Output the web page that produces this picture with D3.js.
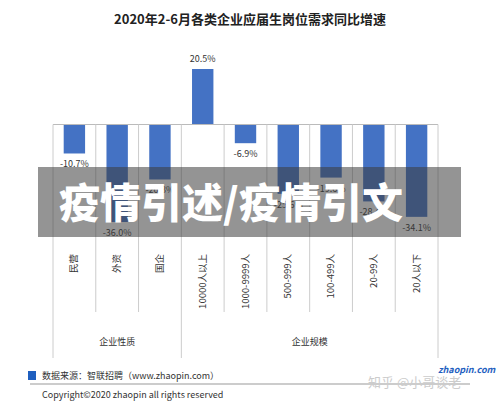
<!DOCTYPE html>
<html><head><meta charset="utf-8">
<script src="https://cdn.jsdelivr.net/npm/d3@7"></script>
<style>body{margin:0;background:#fff}svg{display:block;font-family:"Noto Sans CJK SC","Noto Sans",sans-serif}</style>
</head><body>
<script>
const categories=["民营","外资","国企","10000人以上","1000-9999人","500-999人","100-499人","20-99人","20人以下"];
const values=[-10.7,-36.0,-20.3,20.5,-6.9,-25.6,-19.6,-28.4,-34.1];
const groups=[{name:"企业性质",from:0,to:3},{name:"企业规模",from:3,to:9}];
const W=500,H=405;
const svg=d3.select("body").append("svg").attr("width",W).attr("height",H);
const x=d3.scaleBand().domain(categories).range([53,438]).paddingInner(0.5).paddingOuter(0.25);
const y=d3.scaleLinear().domain([-36,20.5]).range([222,69]);
const edge=i=>53+i*(385/9);
svg.append("text").attr("x",250).attr("y",24).attr("text-anchor","middle").attr("font-size",13).attr("font-weight","bold").attr("fill","#222").text("2020年2-6月各类企业应届生岗位需求同比增速");
svg.selectAll(".bar").data(values).join("rect").attr("x",(d,i)=>x(categories[i])).attr("width",x.bandwidth())
 .attr("y",d=>y(Math.max(0,d))).attr("height",d=>Math.abs(y(d)-y(0))).attr("fill","#4472c4");
svg.append("line").attr("x1",53).attr("x2",438).attr("y1",y(0)).attr("y2",y(0)).attr("stroke","#bbb");
svg.selectAll(".lbl").data(values).join("text").attr("x",(d,i)=>x(categories[i])+x.bandwidth()/2)
 .attr("y",d=>d>0?y(d)-7:y(d)+14).attr("text-anchor","middle").attr("font-size",9).attr("fill","#333").text(d=>d.toFixed(1)+"%");
for(let i=0;i<=9;i++){const g=(i===0||i===3||i===9);
 svg.append("line").attr("x1",edge(i)).attr("x2",edge(i)).attr("y1",y(0)).attr("y2",g?358:312).attr("stroke","#ccc");}
svg.selectAll(".cat").data(categories).join("text")
 .attr("transform",(d,i)=>`translate(${x(d)+x.bandwidth()/2+3},254) rotate(-90)`)
 .attr("text-anchor","end").attr("font-size",9.5).attr("fill","#333").text(d=>d);
svg.selectAll(".grp").data(groups).join("text").attr("x",d=>(edge(d.from)+edge(d.to))/2).attr("y",345)
 .attr("text-anchor","middle").attr("font-size",9).attr("fill","#333").text(d=>d.name);
svg.append("rect").attr("x",28).attr("y",371).attr("width",8).attr("height",9).attr("fill","#1f5fbf");
svg.append("text").attr("x",42).attr("y",379).attr("font-size",9).attr("fill","#333").text("数据来源：智联招聘（www.zhaopin.com）");
svg.append("line").attr("x1",30).attr("x2",470).attr("y1",384).attr("y2",384).attr("stroke","#999");
svg.append("text").attr("x",42).attr("y",398).attr("font-size",9).attr("fill","#333").text("Copyright©2020 zhaopin all rights reserved");
svg.append("text").attr("x",438).attr("y",373).attr("font-size",9).attr("font-weight","bold").attr("font-style","italic").attr("fill","#1f5fbf").text("zhaopin.com");
svg.append("text").attr("x",368).attr("y",387).attr("font-size",13).attr("fill","#ccc").text("知乎 @小哥谈老");
svg.append("rect").attr("x",38).attr("y",167).attr("width",423).attr("height",70).attr("fill","rgba(60,60,60,0.55)");
svg.append("text").attr("x",231).attr("y",218).attr("text-anchor","middle").attr("font-size",41).attr("font-weight","900").attr("fill","#fff").text("疫情引述/疫情引文");
</script>
</body></html>
